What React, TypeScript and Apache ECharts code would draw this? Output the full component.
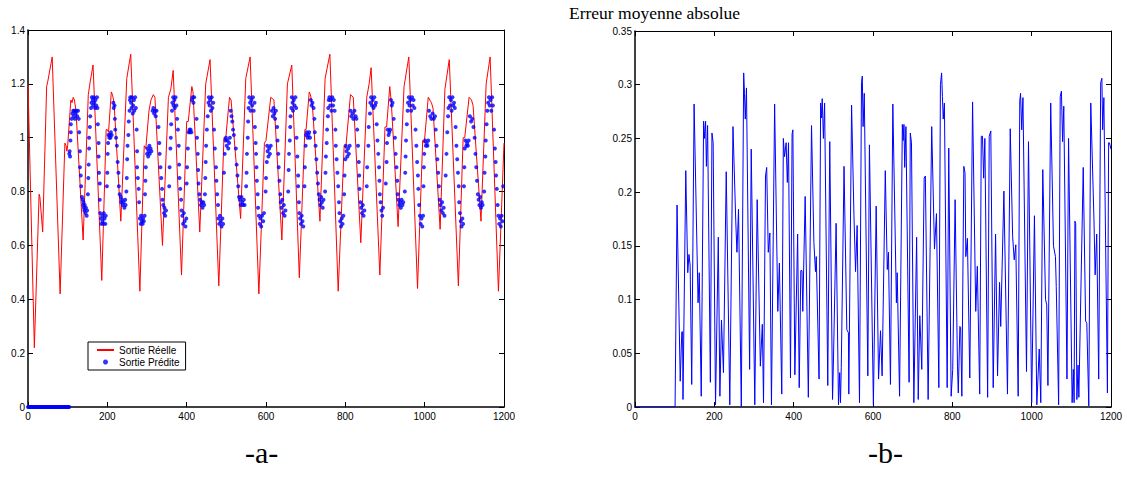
import React, { useEffect, useRef } from "react";
import * as echarts from "echarts";

// ---------- data ----------
const xTicks = [0, 200, 400, 600, 800, 1000, 1200];
const yTicksA = [0, 0.2, 0.4, 0.6, 0.8, 1, 1.2, 1.4];
const yTicksB = [0, 0.05, 0.1, 0.15, 0.2, 0.25, 0.3, 0.35];

// Sortie Réelle (red line) – [x, y]
const sortieReelle: [number, number][] = [
  [0, 1.2], [16, 0.22], [28, 0.79], [30, 0.78], [37, 0.65], [47, 1.19], [50, 1.21], [61, 1.3],
  [81, 0.42], [93, 0.98], [96, 0.97], [98, 0.95], [100, 0.97], [108, 1.14], [111, 1.13], [114, 1.15],
  [117, 1.14], [121, 1.1], [139, 0.62], [152, 1.16], [157, 1.21], [164, 1.27], [186, 0.47], [197, 1.03],
  [200, 1.03], [203, 1.02], [210, 1.17], [213, 1.16], [217, 1.13], [234, 0.69], [249, 1.22], [259, 1.31],
  [282, 0.43], [293, 0.97], [297, 0.96], [305, 1.1], [310, 1.14], [316, 1.16], [320, 1.15], [339, 0.6],
  [354, 1.15], [360, 1.18], [366, 1.25], [387, 0.49], [400, 1.06], [404, 1.06], [413, 1.19], [416, 1.17],
  [433, 0.65], [448, 1.2], [459, 1.29], [481, 0.45], [494, 1.0], [498, 0.99], [508, 1.15], [512, 1.14],
  [536, 0.7], [549, 1.22], [560, 1.3], [582, 0.42], [596, 0.98], [600, 0.99], [612, 1.15], [620, 1.14],
  [640, 0.62], [654, 1.2], [665, 1.27], [684, 0.48], [698, 1.03], [701, 1.03], [709, 1.17], [712, 1.16],
  [717, 1.12], [736, 0.69], [749, 1.22], [761, 1.31], [782, 0.43], [797, 0.97], [801, 0.96], [813, 1.16],
  [820, 1.15], [839, 0.61], [854, 1.15], [860, 1.2], [865, 1.26], [887, 0.49], [900, 1.04], [904, 1.04],
  [912, 1.19], [916, 1.13], [933, 0.67], [948, 1.19], [960, 1.3], [982, 0.44], [995, 0.99], [999, 0.98],
  [1009, 1.15], [1017, 1.13], [1021, 1.11], [1039, 0.66], [1051, 1.18], [1062, 1.29], [1085, 0.45],
  [1097, 1.0], [1101, 1.0], [1112, 1.15], [1118, 1.14], [1122, 1.12], [1142, 0.69], [1155, 1.2],
  [1165, 1.3], [1186, 0.43], [1200, 0.98],
];

// Sortie Prédite (blue dots) – zero part, x values (y = 0)
const predZeroX = [
  0, 2, 4, 6, 8, 10, 12, 14, 16, 18, 20, 22, 24, 26, 28, 30, 32, 34, 36, 38, 40, 42, 44, 46, 48, 50,
  52, 54, 56, 58, 60, 62, 64, 66, 68, 70, 72, 74, 76, 78, 80, 82, 84, 86, 88, 90, 92, 94, 96, 98, 100,
  102, 104,
];

// Sortie Prédite – [x, y], 100..300
const predA: [number, number][] = [
  [104, 0.94], [105, 0.95], [106, 0.93], [107, 0.99], [108, 1.02], [108, 1.05], [110, 1.07], [112, 1.09],
  [114, 1.1], [115, 1.08], [117, 1.1], [118, 1.07], [120, 1.09], [122, 1.1], [124, 1.08], [126, 1.1],
  [128, 1.07], [129, 1.02], [131, 0.95], [131, 0.89], [133, 0.86], [134, 0.82], [136, 0.78], [138, 0.77],
  [139, 0.75], [140, 0.76], [141, 0.74], [142, 0.73], [143, 0.75], [145, 0.72], [146, 0.74], [148, 0.71],
  [149, 0.73], [151, 0.79], [152, 0.85], [153, 0.9], [154, 0.96], [154, 1.0], [156, 1.04], [157, 1.08],
  [159, 1.11], [160, 1.13], [161, 1.15], [163, 1.14], [164, 1.12], [166, 1.15], [167, 1.13], [169, 1.11],
  [170, 1.14], [172, 1.12], [174, 1.15], [175, 1.11], [176, 1.05], [178, 0.98], [178, 0.93], [179, 0.87],
  [181, 0.83], [181, 0.77], [182, 0.72], [184, 0.7], [185, 0.68], [187, 0.71], [188, 0.69], [190, 0.68],
  [191, 0.72], [193, 0.7], [195, 0.68], [196, 0.71], [199, 0.82], [200, 0.87], [201, 0.94], [202, 0.98],
  [203, 1.01], [205, 1.0], [206, 1.01], [208, 1.0], [209, 1.02], [211, 1.01], [215, 1.13], [216, 1.11],
  [218, 1.12], [219, 1.07], [220, 1.03], [222, 1.0], [224, 0.97], [226, 0.91], [228, 0.87], [229, 0.82],
  [231, 0.79], [234, 0.78], [235, 0.76], [237, 0.77], [239, 0.75], [241, 0.76], [243, 0.74], [245, 0.77],
  [246, 0.75], [248, 0.8], [249, 0.85], [250, 0.92], [251, 0.97], [253, 1.01], [254, 1.06], [256, 1.1],
  [257, 1.14], [258, 1.15], [260, 1.13], [261, 1.11], [262, 1.15], [264, 1.09], [265, 1.12], [267, 1.14],
  [268, 1.1], [270, 1.15], [272, 1.11], [274, 1.03], [275, 0.95], [275, 0.89], [277, 0.85], [279, 0.81],
  [280, 0.76], [282, 0.7], [284, 0.68], [285, 0.71], [287, 0.69], [289, 0.68], [290, 0.7], [292, 0.69],
  [294, 0.71],
];

// Sortie Prédite – 300..500
const predB: [number, number][] = [
  [295, 0.79], [296, 0.84], [297, 0.89], [300, 0.94], [301, 0.96], [303, 0.93], [304, 0.95], [306, 0.97],
  [307, 0.94], [309, 0.96], [311, 0.95], [314, 1.1], [316, 1.11], [318, 1.09], [320, 1.1], [322, 1.08],
  [324, 1.1], [329, 1.04], [331, 0.98], [332, 0.94], [334, 0.89], [336, 0.85], [338, 0.81], [339, 0.77],
  [341, 0.75], [343, 0.72], [344, 0.74], [346, 0.71], [348, 0.73], [356, 0.82], [357, 0.89], [359, 0.96],
  [360, 1.0], [361, 1.05], [363, 1.1], [364, 1.13], [366, 1.15], [367, 1.12], [369, 1.14], [370, 1.11],
  [372, 1.15], [374, 1.12], [376, 1.07], [378, 1.03], [380, 0.97], [381, 0.9], [382, 0.85], [384, 0.81],
  [386, 0.77], [387, 0.73], [389, 0.71], [391, 0.68], [393, 0.72], [395, 0.69], [397, 0.67], [399, 0.7],
  [400, 0.83], [401, 0.89], [403, 0.96], [405, 1.02], [407, 1.03], [408, 1.02], [410, 1.03], [412, 1.02],
  [413, 1.14], [415, 1.15], [417, 1.13], [419, 1.15], [425, 1.07], [426, 1.0], [428, 0.94], [429, 0.88],
  [430, 0.83], [432, 0.79], [434, 0.77], [436, 0.75], [438, 0.76], [440, 0.74], [442, 0.76], [444, 0.75],
  [446, 0.79], [447, 0.85], [448, 0.91], [449, 0.97], [451, 1.03], [453, 1.08], [455, 1.13], [456, 1.15],
  [458, 1.12], [459, 1.14], [461, 1.1], [463, 1.15], [465, 1.11], [467, 1.13], [469, 1.03], [471, 0.96],
  [474, 0.89], [475, 0.84], [477, 0.79], [479, 0.75], [480, 0.7], [482, 0.68], [484, 0.71], [486, 0.69],
  [488, 0.67], [490, 0.7], [492, 0.68],
];

// Sortie Prédite – 500..700
const predC: [number, number][] = [
  [494, 0.87], [496, 0.94], [498, 0.99], [499, 1.0], [501, 0.97], [503, 0.99], [505, 0.96], [507, 0.98],
  [509, 1.0], [511, 1.1], [513, 1.08], [515, 1.06], [517, 1.03], [519, 1.01], [524, 0.96], [526, 0.9],
  [528, 0.86], [530, 0.82], [532, 0.78], [534, 0.77], [536, 0.75], [538, 0.78], [540, 0.76], [542, 0.75],
  [544, 0.77], [546, 0.75], [550, 0.82], [551, 0.87], [552, 0.94], [554, 1.0], [555, 1.06], [556, 1.11],
  [558, 1.15], [560, 1.13], [561, 1.1], [563, 1.14], [565, 1.12], [567, 1.15], [569, 1.1], [571, 1.13],
  [572, 1.04], [574, 0.98], [575, 0.94], [576, 0.89], [577, 0.84], [579, 0.79], [580, 0.74], [582, 0.71],
  [584, 0.68], [586, 0.7], [588, 0.67], [590, 0.71], [593, 0.69], [595, 0.72], [599, 0.8], [600, 0.85],
  [602, 0.91], [603, 0.97], [604, 0.95], [606, 0.93], [608, 0.96], [610, 0.94], [612, 0.97], [615, 1.1],
  [617, 1.08], [619, 1.11], [621, 1.09], [623, 1.07], [625, 1.1], [628, 1.04], [629, 0.99], [631, 0.94],
  [632, 0.89], [634, 0.84], [636, 0.79], [637, 0.76], [639, 0.74], [641, 0.77], [643, 0.72], [645, 0.75],
  [647, 0.71], [649, 0.73], [656, 0.8], [657, 0.88], [658, 0.94], [660, 0.99], [661, 1.04], [662, 1.08],
  [664, 1.11], [665, 1.15], [667, 1.13], [668, 1.1], [670, 1.14], [672, 1.12], [674, 1.15], [676, 1.11],
  [677, 1.0], [679, 0.93], [681, 0.86], [681, 0.82], [683, 0.76], [684, 0.72], [686, 0.7], [688, 0.68],
  [690, 0.71], [692, 0.69], [694, 0.67],
];

// Sortie Prédite – 700..900
const predD: [number, number][] = [
  [697, 0.82], [698, 0.89], [700, 0.97], [701, 1.01], [703, 1.02], [705, 1.0], [707, 1.01], [709, 1.02],
  [711, 1.0], [713, 1.14], [715, 1.12], [717, 1.13], [720, 1.11], [722, 1.07], [723, 1.02], [725, 0.97],
  [727, 0.92], [729, 0.87], [731, 0.83], [733, 0.79], [735, 0.77], [737, 0.75], [739, 0.78], [741, 0.76],
  [743, 0.74], [745, 0.77], [749, 0.8], [750, 0.87], [751, 0.93], [753, 0.98], [754, 1.03], [756, 1.08],
  [757, 1.11], [758, 1.14], [760, 1.15], [762, 1.12], [763, 1.14], [765, 1.1], [767, 1.15], [769, 1.12],
  [771, 1.14], [773, 1.1], [775, 1.03], [776, 0.97], [778, 0.92], [780, 0.87], [782, 0.82], [784, 0.76],
  [785, 0.72], [787, 0.69], [789, 0.67], [791, 0.7], [793, 0.68], [795, 0.71], [797, 0.79], [798, 0.86],
  [800, 0.92], [801, 0.97], [803, 0.95], [805, 0.93], [807, 0.96], [809, 0.94], [811, 0.97], [813, 1.1],
  [815, 1.08], [818, 1.09], [820, 1.07], [823, 1.1], [826, 1.08], [828, 1.07], [830, 1.03], [832, 0.97],
  [834, 0.91], [835, 0.86], [836, 0.81], [838, 0.76], [840, 0.74], [842, 0.72], [844, 0.75], [846, 0.71],
  [848, 0.73], [854, 0.82], [855, 0.89], [858, 0.97], [859, 1.04], [862, 1.09], [863, 1.13], [865, 1.15],
  [867, 1.12], [869, 1.14], [871, 1.11], [873, 1.15], [875, 1.12], [877, 1.13], [879, 1.05], [881, 0.99],
  [883, 0.94], [885, 0.89], [886, 0.84], [887, 0.79], [889, 0.76], [891, 0.73], [893, 0.71], [895, 0.74],
];

// Sortie Prédite – 900..1200
const predE: [number, number][] = [
  [902, 0.83], [904, 0.91], [905, 0.98], [907, 1.03], [909, 1.01], [911, 1.02], [913, 1.03], [915, 1.14],
  [917, 1.12], [919, 1.13], [922, 1.07], [925, 1.0], [927, 0.94], [929, 0.89], [931, 0.84], [932, 0.79],
  [934, 0.77], [936, 0.75], [938, 0.76], [940, 0.74], [942, 0.77], [944, 0.75], [946, 0.76], [950, 0.8],
  [951, 0.87], [952, 0.93], [953, 0.99], [955, 1.05], [957, 1.1], [958, 1.13], [960, 1.15], [962, 1.12],
  [964, 1.14], [966, 1.1], [968, 1.15], [970, 1.12], [972, 1.14], [974, 1.11], [977, 1.03], [979, 0.97],
  [981, 0.91], [983, 0.86], [984, 0.81], [986, 0.75], [988, 0.71], [990, 0.68], [992, 0.7], [994, 0.67],
  [996, 0.71], [997, 0.82], [998, 0.89], [999, 0.94], [1001, 0.99], [1003, 0.97], [1005, 0.98],
  [1007, 0.97], [1009, 0.99], [1011, 1.1], [1014, 1.08], [1017, 1.07], [1020, 1.09], [1023, 1.07],
  [1026, 1.08], [1028, 1.03], [1030, 0.97], [1032, 0.92], [1034, 0.87], [1036, 0.82], [1038, 0.77],
  [1040, 0.75], [1042, 0.73], [1044, 0.76], [1046, 0.72], [1048, 0.74], [1050, 0.71], [1053, 0.86],
  [1055, 0.94], [1057, 1.02], [1059, 1.08], [1060, 1.11], [1062, 1.15], [1064, 1.12], [1066, 1.14],
  [1068, 1.1], [1070, 1.15], [1072, 1.12], [1074, 1.13], [1076, 1.11], [1078, 1.04], [1080, 0.97],
  [1082, 0.92], [1084, 0.87], [1086, 0.82], [1087, 0.76], [1089, 0.72], [1091, 0.69], [1093, 0.67],
  [1095, 0.7], [1097, 0.68], [1099, 0.82], [1100, 0.89], [1101, 0.96], [1103, 0.99], [1105, 0.97],
  [1107, 0.98], [1109, 0.97], [1111, 0.99], [1114, 1.08], [1117, 1.06], [1120, 1.07], [1123, 1.04],
  [1126, 1.0], [1128, 0.94], [1130, 0.89], [1132, 0.84], [1134, 0.79], [1136, 0.77], [1138, 0.75],
  [1140, 0.78], [1142, 0.74], [1144, 0.76], [1146, 0.75], [1150, 0.8], [1151, 0.87], [1153, 0.93],
  [1154, 0.99], [1156, 1.05], [1158, 1.1], [1160, 1.13], [1162, 1.15], [1164, 1.12], [1166, 1.14],
  [1168, 1.1], [1170, 1.15], [1172, 1.12], [1175, 1.03], [1177, 0.96], [1179, 0.91], [1180, 0.86],
  [1182, 0.81], [1184, 0.75], [1186, 0.71], [1188, 0.68], [1190, 0.7], [1192, 0.67], [1194, 0.71],
  [1196, 0.69], [1198, 0.82],
];

// Erreur moyenne absolue (blue line) – [x, y]
const erreurA: [number, number][] = [
  [0, 0], [101, 0], [106, 0.188], [114, 0.024], [118, 0.07], [120, 0.07], [121, 0.007], [128, 0.22],
  [133, 0.125], [136, 0.142], [139, 0.132], [143, 0.021], [149, 0.282], [159, 0.097], [162, 0.125],
  [167, 0.01], [173, 0.266], [175, 0.25], [178, 0.266], [180, 0.224], [183, 0.262], [190, 0.023],
  [194, 0.255], [197, 0.246], [203, 0.002], [210, 0.158], [214, 0.01], [218, 0.081], [223, 0.032],
  [230, 0.219], [239, 0.002], [247, 0.261], [254, 0.173], [257, 0.144], [261, 0.184], [268, 0],
  [274, 0.311], [276, 0.292], [278, 0.268], [281, 0.297], [289, 0.035], [293, 0.24], [302, 0.002],
  [308, 0.193], [316, 0.038], [321, 0.077], [324, 0.004], [329, 0.215], [332, 0.223], [336, 0.144],
  [340, 0.162], [344, 0.002], [352, 0.282], [360, 0.089], [364, 0.134], [370, 0.012], [374, 0.25],
  [377, 0.233], [381, 0.246], [384, 0.209], [387, 0.246], [392, 0.027], [396, 0.254], [398, 0.258],
];
const erreurB: [number, number][] = [
  [403, 0.03], [410, 0.161], [414, 0.018], [418, 0.127], [421, 0.127], [423, 0.089], [429, 0.196],
  [437, 0.009], [445, 0.262], [451, 0.153], [455, 0.126], [457, 0.14], [464, 0.026], [468, 0.283],
  [470, 0.269], [472, 0.287], [475, 0.25], [478, 0.283], [486, 0.02], [491, 0.247], [498, 0.007],
  [500, 0.038], [507, 0.171], [513, 0.002], [516, 0.032], [518, 0.004], [520, 0.037], [527, 0.224],
  [534, 0.072], [538, 0.069], [539, 0.012], [546, 0.281], [552, 0.178], [556, 0.126], [560, 0.169],
  [566, 0.004], [571, 0.302], [573, 0.308], [575, 0.261], [578, 0.292], [587, 0.029], [591, 0.244],
  [601, 0.002], [608, 0.187], [614, 0.026], [619, 0.071], [623, 0.029], [631, 0.22], [636, 0.128],
  [639, 0.144], [644, 0.021], [650, 0.282], [659, 0.097], [661, 0.125], [667, 0.01], [674, 0.263],
  [676, 0.248], [678, 0.263], [680, 0.223], [683, 0.261], [691, 0.023], [694, 0.255], [697, 0.246],
  [703, 0.004], [710, 0.158], [714, 0.007], [718, 0.085], [723, 0.035], [729, 0.213], [732, 0.215],
  [739, 0.007], [748, 0.261], [755, 0.147], [760, 0.18], [766, 0.018], [770, 0.3], [773, 0.311],
  [775, 0.289], [777, 0.268], [780, 0.283], [787, 0.018], [791, 0.241], [797, 0.01],
];
const erreurC: [number, number][] = [
  [801, 0.035], [807, 0.193], [813, 0.038], [815, 0.013], [819, 0.075], [821, 0.074], [824, 0.01],
  [829, 0.224], [832, 0.218], [834, 0.14], [838, 0.157], [844, 0.027], [851, 0.284], [859, 0.089],
  [863, 0.131], [869, 0.012], [873, 0.252], [876, 0.252], [879, 0.213], [882, 0.25], [889, 0.009],
  [893, 0.252], [897, 0.257], [903, 0.018], [909, 0.161], [914, 0.029], [919, 0.116], [922, 0.075],
  [930, 0.201], [939, 0.012], [946, 0.259], [952, 0.159], [956, 0.137], [960, 0.151], [966, 0.01],
  [970, 0.285], [972, 0.292], [975, 0.258], [978, 0.288], [987, 0.033], [992, 0.247], [1000, 0.004],
  [1007, 0.178], [1013, 0.002], [1019, 0.054], [1023, 0.004], [1028, 0.221], [1035, 0.1],
  [1038, 0.095], [1041, 0.02], [1048, 0.283], [1055, 0.15], [1060, 0.14], [1062, 0.112], [1068, 0.002],
  [1072, 0.289], [1075, 0.294], [1078, 0.247], [1081, 0.28], [1089, 0.026], [1093, 0.25],
  [1102, 0.004], [1105, 0.035], [1107, 0.004], [1109, 0.173], [1111, 0.171], [1114, 0.007],
  [1117, 0.039], [1119, 0.009], [1130, 0.223], [1136, 0.08], [1139, 0.078], [1144, 0.001],
  [1149, 0.283], [1157, 0.175], [1160, 0.123], [1164, 0.161], [1169, 0.026], [1174, 0.302],
  [1177, 0.306], [1179, 0.258], [1182, 0.288], [1191, 0.013], [1194, 0.246], [1196, 0.246],
  [1200, 0.24],
];

const seriesNames = ["Sortie Réelle", "Sortie Prédite"];
const titleText = "Erreur moyenne absolue";
const panelLabels = ["-a-", "-b-"];

// ---------- component ----------
export default function App() {
  const ref = useRef<HTMLDivElement>(null);

  useEffect(() => {
    if (!ref.current) return;
    const chart = echarts.init(ref.current, undefined, { renderer: "svg" });

    const sans = "'Liberation Sans', Arial, sans-serif";
    const serif = "'Liberation Serif', 'Times New Roman', serif";
    const axisLine = { show: true, onZero: false, lineStyle: { color: "#000", width: 1.5 } };
    const tick = { show: true, inside: true, length: 5, lineStyle: { color: "#000", width: 1 } };
    const label = {
      color: "#000",
      fontSize: 10,
      fontFamily: sans,
      formatter: (v: number) => String(v),
    };

    const xMain = (gridIndex: number) => ({
      type: "value" as const,
      gridIndex,
      position: "bottom" as const,
      min: xTicks[0],
      max: xTicks[xTicks.length - 1],
      interval: xTicks[1] - xTicks[0],
      axisLine,
      axisTick: tick,
      axisLabel: { ...label, margin: 4 },
      splitLine: { show: false },
    });
    const xTop = (gridIndex: number) => ({
      type: "value" as const,
      gridIndex,
      position: "top" as const,
      min: xTicks[0],
      max: xTicks[xTicks.length - 1],
      interval: xTicks[1] - xTicks[0],
      axisLine: { ...axisLine, lineStyle: { color: "#000", width: 1 } },
      axisTick: tick,
      axisLabel: { show: false },
      splitLine: { show: false },
    });
    const yMain = (gridIndex: number, ticks: number[]) => ({
      type: "value" as const,
      gridIndex,
      position: "left" as const,
      min: ticks[0],
      max: ticks[ticks.length - 1],
      interval: ticks[1] - ticks[0],
      axisLine,
      axisTick: tick,
      axisLabel: {
        ...label,
        margin: 3,
        formatter: (v: number) => String(Math.round(v * 1000) / 1000),
      },
      splitLine: { show: false },
    });
    const yRight = (gridIndex: number, ticks: number[]) => ({
      type: "value" as const,
      gridIndex,
      position: "right" as const,
      min: ticks[0],
      max: ticks[ticks.length - 1],
      interval: ticks[1] - ticks[0],
      axisLine: { ...axisLine, lineStyle: { color: "#000", width: 1 } },
      axisTick: tick,
      axisLabel: { show: false },
      splitLine: { show: false },
    });

    const predicted: [number, number][] = [
      ...predZeroX.map((x) => [x, 0] as [number, number]),
      ...predA,
      ...predB,
      ...predC,
      ...predD,
      ...predE,
    ];
    const erreur = [...erreurA, ...erreurB, ...erreurC];

    chart.setOption({
      animation: false,
      backgroundColor: "#fff",
      title: [
        {
          text: titleText,
          left: 569,
          top: 4,
          padding: 0,
          textStyle: { fontFamily: serif, fontSize: 17.5, fontWeight: "normal", color: "#000" },
        },
        {
          text: panelLabels[0],
          left: 245,
          top: 437,
          padding: 0,
          textStyle: { fontFamily: serif, fontSize: 30, fontWeight: "normal", color: "#000" },
        },
        {
          text: panelLabels[1],
          left: 868,
          top: 437,
          padding: 0,
          textStyle: { fontFamily: serif, fontSize: 30, fontWeight: "normal", color: "#000" },
        },
      ],
      legend: {
        data: [
          { name: seriesNames[0], itemStyle: { opacity: 0 } },
          { name: seriesNames[1] },
        ],
        orient: "vertical",
        left: 88,
        top: 342,
        padding: [3, 6, 3, 8],
        itemGap: 2,
        itemWidth: 17,
        itemHeight: 5,
        borderColor: "#000",
        borderWidth: 1,
        backgroundColor: "#fff",
        textStyle: { fontFamily: sans, fontSize: 10, color: "#000" },
      },
      grid: [
        { left: 28, top: 30, width: 476, height: 377 },
        { left: 635, top: 31, width: 476, height: 376 },
      ],
      xAxis: [xMain(0), xTop(0), xMain(1), xTop(1)],
      yAxis: [yMain(0, yTicksA), yRight(0, yTicksA), yMain(1, yTicksB), yRight(1, yTicksB)],
      series: [
        {
          name: seriesNames[0],
          type: "line",
          xAxisIndex: 0,
          yAxisIndex: 0,
          data: sortieReelle,
          symbol: "none",
          showSymbol: false,
          lineStyle: { color: "#ff0000", width: 1 },
          itemStyle: { color: "#ff0000" },
          z: 2,
        },
        {
          name: seriesNames[1],
          type: "scatter",
          xAxisIndex: 0,
          yAxisIndex: 0,
          data: predicted,
          symbol: "circle",
          symbolSize: 4,
          itemStyle: { color: "#0000ff" },
          z: 3,
        },
        {
          name: titleText,
          type: "line",
          xAxisIndex: 2,
          yAxisIndex: 2,
          data: erreur,
          symbol: "none",
          showSymbol: false,
          lineStyle: { color: "#0000ff", width: 1 },
          itemStyle: { color: "#0000ff" },
        },
      ],
    });

    return () => chart.dispose();
  }, []);

  return (
    <div
      ref={ref}
      style={{ position: "absolute", left: 0, top: 0, width: 1127, height: 495, background: "#fff" }}
    />
  );
}
